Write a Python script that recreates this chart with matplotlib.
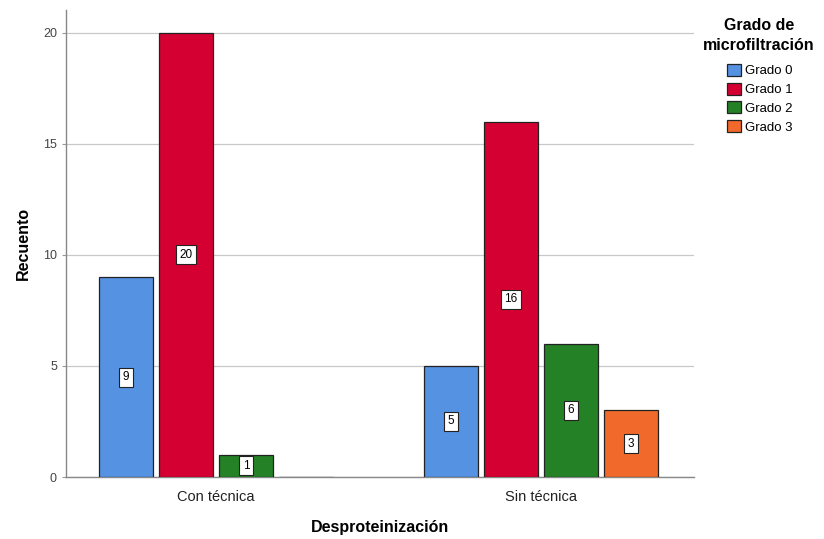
import matplotlib.pyplot as plt
import numpy as np

plt.rcParams['font.family'] = ['Liberation Sans', 'DejaVu Sans']

categories = ["Con técnica", "Sin técnica"]
series = ["Grado 0", "Grado 1", "Grado 2", "Grado 3"]
counts = {
    "Grado 0": [9, 5],
    "Grado 1": [20, 16],
    "Grado 2": [1, 6],
    "Grado 3": [0, 3],
}
colors = ["#5592E2", "#D50032", "#248126", "#F26A2B"]

fig = plt.figure(figsize=(8.24, 5.39), dpi=100)
ax = fig.add_axes([0.0801, 0.115, 0.7621, 0.8666])

x = np.arange(len(categories))
step = 0.1846
width = 0.166
offsets = (np.arange(len(series)) - 1.5) * step

for i, (name, col) in enumerate(zip(series, colors)):
    vals = counts[name]
    ax.bar(x + offsets[i], vals, width=width, color=col, edgecolor="#222222",
           linewidth=0.9, label=name, zorder=3)
    for xi, v in zip(x, vals):
        if v > 0:
            ax.text(xi + offsets[i], v / 2, str(v), ha="center", va="center",
                    fontsize=8.5, zorder=5,
                    bbox=dict(boxstyle="square,pad=0.3", fc="white",
                              ec="#222222", lw=0.8))

ax.set_xlim(-0.4615, 1.4708)
ax.set_ylim(0, 21.03)
ax.set_yticks([0, 5, 10, 15, 20])
ax.set_xticks(x)
ax.set_xticklabels(categories, fontsize=10.5, color="#222222")
ax.tick_params(axis="y", labelsize=9, colors="#444444", length=3, color="#999999")
ax.tick_params(axis="x", length=0, pad=9)
ax.grid(axis="y", color="#C8C8C8", linewidth=0.9, zorder=0)
for s in ["top", "right"]:
    ax.spines[s].set_visible(False)
for s in ["left", "bottom"]:
    ax.spines[s].set_color("#888888")
    ax.spines[s].set_linewidth(1.0)

ax.set_ylabel("Recuento", fontsize=11.5, fontweight="bold", labelpad=9)
ax.set_xlabel("Desproteinización", fontsize=11.5, fontweight="bold", labelpad=12)

# Legend title drawn as centred figure text above the entries
fig.text(759 / 824, 1 - 25 / 539, "Grado de", ha="center", va="center",
         fontsize=11.5, fontweight="bold")
fig.text(759 / 824, 1 - 45 / 539, "microfiltración", ha="center", va="center",
         fontsize=11.5, fontweight="bold")

leg = fig.legend(loc="upper left", bbox_to_anchor=(727 / 824, 1 - 64 / 539),
                 frameon=False, fontsize=9.5,
                 handlelength=1.05, handleheight=1.0, handletextpad=0.35,
                 labelspacing=0.4, borderaxespad=0, borderpad=0)

fig.savefig("out.png", dpi=100)
